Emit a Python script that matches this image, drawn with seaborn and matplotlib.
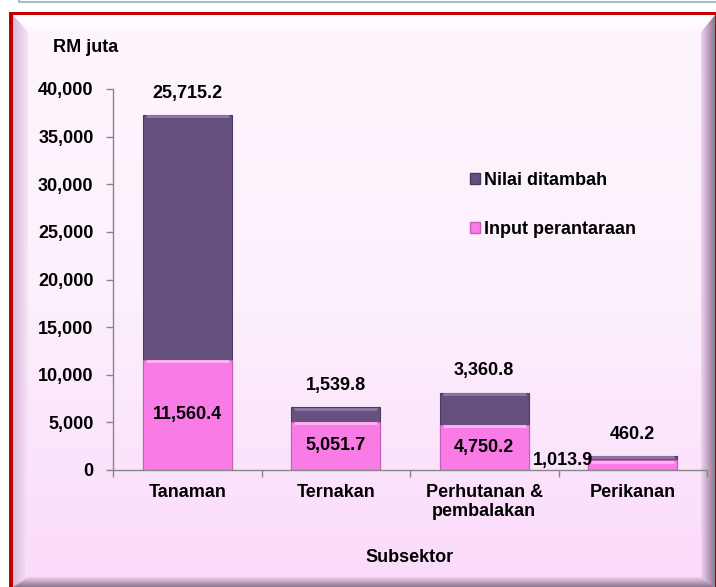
import matplotlib
matplotlib.use('Agg')
import numpy as np
import matplotlib.pyplot as plt
from matplotlib.patches import Patch, Polygon, Rectangle
from matplotlib.colors import LinearSegmentedColormap
from matplotlib.ticker import FuncFormatter
import seaborn as sns

# Data (RM juta)
categories = ['Tanaman', 'Ternakan', 'Perhutanan &\npembalakan', 'Perikanan']
input_perantaraan = [11560.4, 5051.7, 4750.2, 1013.9]
nilai_ditambah = [25715.2, 1539.8, 3360.8, 460.2]
yticks = [0, 5000, 10000, 15000, 20000, 25000, 30000, 35000, 40000]

jumlah = [a + b for a, b in zip(input_perantaraan, nilai_ditambah)]

ungu = '#65507F'
merah_jambu = '#F97CE6'

sns.set_theme(style='white')
plt.rcParams['font.family'] = ['Liberation Sans', 'DejaVu Sans']
plt.rcParams['font.weight'] = 'bold'
plt.rcParams['text.color'] = 'black'

W, H = 716, 587
fig = plt.figure(figsize=(W / 100, H / 100), dpi=100)
fig.patch.set_facecolor('white')

# latar belakang (koordinat piksel)
bg = fig.add_axes([0, 0, 1, 1], zorder=-10)
bg.axis('off')


def bevel(pts, c0, c1, arah, extent):
    cmap = LinearSegmentedColormap.from_list('b', [c0, c1])
    if arah == 'h':
        arr = np.linspace(0, 1, 64).reshape(1, -1)
    else:
        arr = np.linspace(0, 1, 64).reshape(-1, 1)
    im = bg.imshow(arr, cmap=cmap, extent=extent, aspect='auto', interpolation='bilinear', zorder=1)
    poly = Polygon(pts, closed=True, facecolor='none', edgecolor='none')
    bg.add_patch(poly)
    im.set_clip_path(poly)


bg.plot([19, 19, W], [0, 2, 2], color='#A9BECB', lw=1.5)
bg.add_patch(Rectangle((9, 12), W, H, facecolor='#C00000', edgecolor='none', zorder=-1))

panel = LinearSegmentedColormap.from_list('panel', ['#FEF5FE', '#FCF0FC', '#FBDAFB'])
bg.imshow(np.linspace(0, 1, 256).reshape(-1, 1), cmap=panel,
          extent=[13, 715, H, 15], aspect='auto', zorder=0)

bevel([(13, 15), (715, 15), (701, 32), (28, 32)], '#FFFFFF', '#FEF7FE', 'v', [13, 715, 32, 15])
bevel([(13, 15), (28, 32), (28, 577), (13, 587)], '#D9B7D9', '#F8E4F8', 'h', [13, 28, H, 15])
bevel([(715, 15), (715, 587), (701, 577), (701, 32)], '#F3D3F3', '#8C7790', 'h', [701, 715, H, 15])
bevel([(13, 587), (28, 577), (701, 577), (715, 587)], '#F0CFF0', '#8B7690', 'v', [13, 715, H, 577])

bg.set_xlim(0, W)
bg.set_ylim(H, 0)

# carta utama
ax = fig.add_axes([113 / W, 1 - 470 / H, (707 - 113) / W, (470 - 89) / H])
ax.patch.set_alpha(0)

sns.barplot(x=categories, y=jumlah, color=ungu, width=0.6, saturation=1,
            edgecolor='#4A3A60', linewidth=0.8, ax=ax)
sns.barplot(x=categories, y=input_perantaraan, color=merah_jambu, width=0.6, saturation=1,
            edgecolor='#C45FB3', linewidth=0.8, ax=ax)

# kesan serong ringan di atas bar
for p in ax.patches:
    x0, w, h = p.get_x(), p.get_width(), p.get_height()
    terang = '#8D78A8' if p.get_facecolor()[1] < 0.4 else '#FFB4F4'
    ax.plot([x0 + 0.02, x0 + w - 0.02], [h - 150, h - 150], color=terang, lw=2,
            solid_capstyle='butt', zorder=3)

ax.set_xlim(-0.5, 3.5)
ax.set_ylim(0, 40000)
ax.set_yticks(yticks)
ax.yaxis.set_major_formatter(FuncFormatter(lambda v, p: f'{v:,.0f}'))

ax.set_xticks([-0.5, 0.5, 1.5, 2.5, 3.5])
ax.set_xticklabels([])
ax.set_xticks(range(len(categories)), minor=True)
ax.set_xticklabels(categories, minor=True)
ax.tick_params(axis='x', which='major', bottom=True, length=5, width=1, color='#868686')
ax.tick_params(axis='x', which='minor', bottom=True, length=0, pad=10, labelsize=13,
               labelcolor='black')
ax.tick_params(axis='y', left=True, length=5, width=1, color='#868686', pad=9, labelsize=13,
               labelcolor='black')
for lbl in ax.get_xticklabels(minor=True) + ax.get_yticklabels():
    lbl.set_fontweight('bold')
ax.set_xlabel('')
ax.set_ylabel('')

for s in ['top', 'right']:
    ax.spines[s].set_visible(False)
for s in ['left', 'bottom']:
    ax.spines[s].set_color('#868686')
    ax.spines[s].set_linewidth(1)

# label nilai
for i, (a, b, t) in enumerate(zip(input_perantaraan, nilai_ditambah, jumlah)):
    ax.text(i, t + 2300, f'{b:,.1f}', ha='center', va='center', fontsize=13, fontweight='bold')
    if a > 3000:
        ax.text(i, a / 2, f'{a:,.1f}', ha='center', va='center', fontsize=13, fontweight='bold')
    else:
        ax.text(i - 0.27, a / 2 + 500, f'{a:,.1f}', ha='right', va='center', fontsize=13,
                fontweight='bold')

handles = [Patch(facecolor=ungu, edgecolor='#4A3A60'), Patch(facecolor=merah_jambu, edgecolor='#C45FB3')]
ax.legend(handles, ['Nilai ditambah', 'Input perantaraan'], loc='upper left',
          bbox_to_anchor=(470 / W, 1 - 172 / H), bbox_transform=fig.transFigure,
          frameon=False, prop={'size': 13, 'weight': 'bold'}, handlelength=0.55,
          handleheight=0.55, handletextpad=0.2, labelspacing=1.75, borderpad=0,
          borderaxespad=0)

fig.text(86 / W, 1 - 48 / H, 'RM juta', ha='center', va='center', fontsize=13, fontweight='bold')
fig.text(410 / W, 1 - 557 / H, 'Subsektor', ha='center', va='center', fontsize=13, fontweight='bold')

fig.savefig('out.png', dpi=100)
